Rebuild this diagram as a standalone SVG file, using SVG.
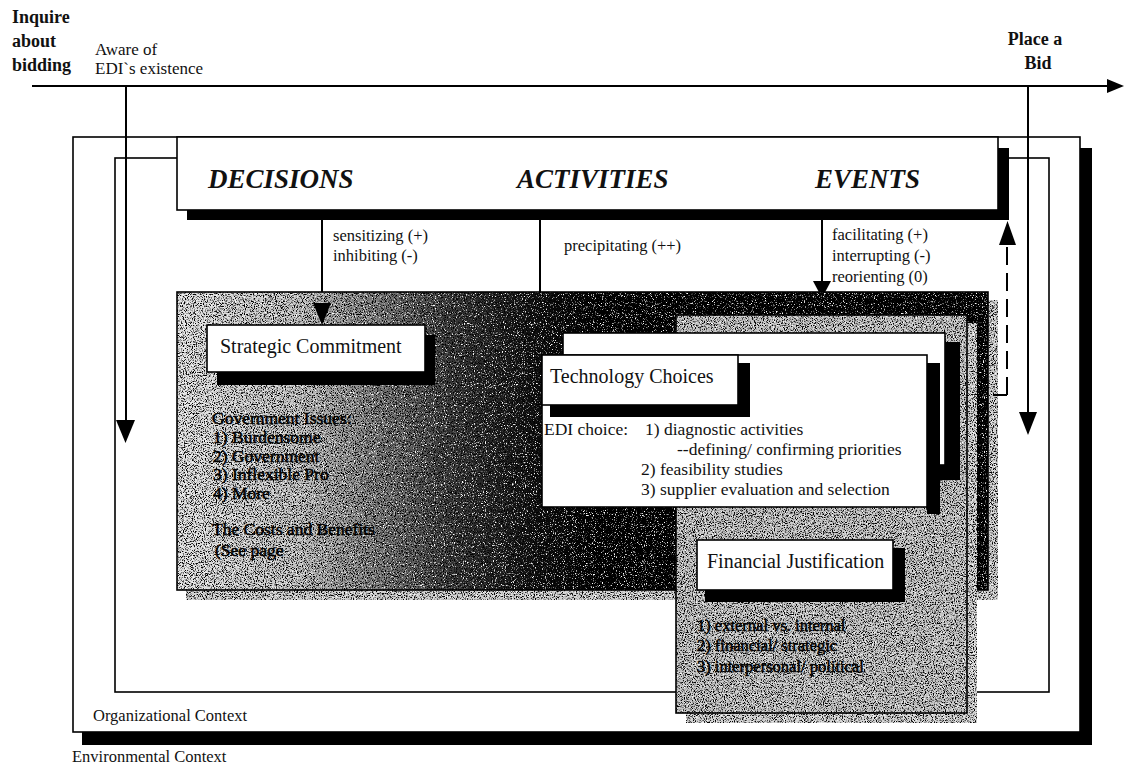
<svg xmlns="http://www.w3.org/2000/svg" width="1124" height="768" viewBox="0 0 1124 768">
  <defs>
    <style>
      .t { font-family: "Liberation Serif", "Times New Roman", serif; fill: #111; }
      .hdr { font-size: 27px; font-weight: bold; font-style: italic; }
      .top { font-size: 18px; font-weight: bold; }
      .lbl { font-size: 16.5px; }
      .title { font-size: 20px; }
      .body { font-size: 17.5px; }
      .dim { font-size: 17.5px; fill: #000; stroke: #000; stroke-width: 0.5px; }
      .box { fill: #fff; stroke: #000; stroke-width: 1.6; }
      .frame { fill: none; stroke: #000; stroke-width: 1.6; }
      .shadow { fill: #000; }
      .wire { fill: none; stroke: #000; stroke-width: 2; }
      .dash { fill: none; stroke: #000; stroke-width: 2; stroke-dasharray: 18 8; }
      .head { fill: #000; }
    </style>
    <!-- stippled halftone texture: dark and light specks over the fill -->
    <filter id="grain" x="0" y="0" width="1" height="1" color-interpolation-filters="sRGB">
      <feTurbulence type="fractalNoise" baseFrequency="0.9" numOctaves="2" seed="5" result="n"/>
      <feColorMatrix in="n" type="matrix" values="0 0 0 0 0  0 0 0 0 0  0 0 0 0 0  -5 0 0 0 2.6" result="dk"/>
      <feColorMatrix in="n" type="matrix" values="0 0 0 0 1  0 0 0 0 1  0 0 0 0 1  0 5 0 0 -2.9" result="lt"/>
      <feMerge result="m">
        <feMergeNode in="SourceGraphic"/>
        <feMergeNode in="dk"/>
        <feMergeNode in="lt"/>
      </feMerge>
      <feComposite in="m" in2="SourceGraphic" operator="in"/>
    </filter>
    <linearGradient id="fade" gradientUnits="userSpaceOnUse" x1="177" y1="0" x2="988" y2="0">
      <stop offset="0" stop-color="#e4e4e4"/>
      <stop offset="0.15" stop-color="#c4c4c4"/>
      <stop offset="0.25" stop-color="#7a7a7a"/>
      <stop offset="0.34" stop-color="#383838"/>
      <stop offset="0.44" stop-color="#101010"/>
      <stop offset="0.52" stop-color="#000"/>
      <stop offset="1" stop-color="#000"/>
    </linearGradient>
  </defs>

  <rect width="1124" height="768" fill="#fff"/>

  <!-- environmental context frame -->
  <g id="environmental-context">
    <rect class="shadow" x="82" y="148" width="1010" height="597"/>
    <rect class="box" x="73" y="137" width="1007" height="595"/>
    <text class="t lbl" x="72" y="762">Environmental Context</text>
  </g>

  <!-- organizational context frame -->
  <g id="organizational-context">
    <rect class="frame" x="115" y="158" width="934" height="534"/>
    <text class="t lbl" x="93" y="721">Organizational Context</text>
  </g>

  <!-- header bar -->
  <g id="header">
    <rect class="shadow" x="187" y="148" width="822" height="72"/>
    <rect class="box" x="177" y="137" width="821" height="73"/>
    <text class="t hdr" x="208" y="188">DECISIONS</text>
    <text class="t hdr" x="517" y="188">ACTIVITIES</text>
    <text class="t hdr" x="815" y="188">EVENTS</text>
  </g>

  <!-- timeline labels -->
  <g id="timeline-labels">
    <text class="t top" x="12" y="23">Inquire</text>
    <text class="t top" x="12" y="47">about</text>
    <text class="t top" x="12" y="71">bidding</text>
    <text class="t lbl" x="95" y="55" style="font-size:17px">Aware of</text>
    <text class="t lbl" x="95" y="74" style="font-size:17px">EDI`s existence</text>
    <text class="t top" x="1035" y="45" text-anchor="middle">Place a</text>
    <text class="t top" x="1038" y="69" text-anchor="middle">Bid</text>
  </g>

  <!-- connectors -->
  <g id="connectors">
    <line class="wire" x1="32" y1="86" x2="1110" y2="86"/>
    <polygon class="head" points="1107,79 1124,86 1107,93"/>
    <line class="wire" x1="126" y1="86" x2="126" y2="424"/>
    <polygon class="head" points="116,420 135,420 125.5,443"/>
    <line class="wire" x1="1028" y1="86" x2="1028" y2="416"/>
    <polygon class="head" points="1019,412 1037,412 1028,435"/>
    <line class="wire" x1="322" y1="220" x2="322" y2="305"/>
    <line class="wire" x1="540" y1="220" x2="540" y2="293"/>
    <line class="wire" x1="822" y1="220" x2="822" y2="284"/>
    <polygon class="head" points="813,281 831,281 822,298"/>
  </g>

  <!-- influence labels -->
  <g id="influence-labels">
    <text class="t lbl" x="333" y="241">sensitizing (+)</text>
    <text class="t lbl" x="333" y="261">inhibiting (-)</text>
    <text class="t lbl" x="564" y="251">precipitating (++)</text>
    <text class="t lbl" x="832" y="240">facilitating (+)</text>
    <text class="t lbl" x="832" y="261">interrupting (-)</text>
    <text class="t lbl" x="832" y="282">reorienting (0)</text>
  </g>

  <!-- strategic commitment panel -->
  <g id="strategic-commitment">
    <rect x="186" y="300" width="812" height="300" fill="#d0d0d0" filter="url(#grain)"/>
    <rect x="177" y="292" width="811" height="298" fill="url(#fade)" filter="url(#grain)"/>
    <rect class="frame" x="177" y="292" width="811" height="298"/>
    <polygon class="head" points="313,303 331,303 322,325"/>
    <rect class="shadow" x="217" y="335" width="218" height="50"/>
    <rect class="box" x="207" y="325" width="218" height="47"/>
    <text class="t title" x="220" y="353">Strategic Commitment</text>
    <text class="t dim" x="212" y="424">Government Issues:</text>
    <text class="t dim" x="213" y="443">1) Burdensome</text>
    <text class="t dim" x="213" y="462">2) Government</text>
    <text class="t dim" x="213" y="480">3) Inflexible Pro</text>
    <text class="t dim" x="213" y="499">4) More</text>
    <text class="t dim" x="212" y="535">The Costs and Benefits</text>
    <text class="t dim" x="215" y="556">(See page</text>
  </g>

  <!-- financial justification panel -->
  <g id="financial-justification">
    <rect x="686" y="323" width="291" height="400" fill="#d4d4d4" filter="url(#grain)"/>
    <rect x="676" y="315" width="291" height="398" fill="#c6c6c6" filter="url(#grain)"/>
    <rect class="frame" x="676" y="315" width="291" height="398"/>
    <rect class="shadow" x="705" y="548" width="200" height="54"/>
    <rect class="box" x="697" y="540" width="196" height="50"/>
    <text class="t title" x="707" y="568">Financial Justification</text>
    <text class="t dim" x="697" y="631" style="font-size:16.5px">1) external vs. internal</text>
    <text class="t dim" x="697" y="651" style="font-size:16.5px">2) financial/ strategic</text>
    <text class="t dim" x="697" y="672" style="font-size:16.5px">3) interpersonal/ political</text>
  </g>

  <!-- technology choices cards -->
  <g id="technology-choices">
    <rect class="shadow" x="572" y="342" width="388" height="138"/>
    <rect class="box" x="563" y="333" width="382" height="132"/>
    <rect class="shadow" x="927" y="363" width="13" height="151"/>
    <rect class="box" x="542" y="355" width="385" height="152"/>
    <rect class="shadow" x="550" y="363" width="200" height="54"/>
    <rect class="box" x="542" y="355" width="196" height="50"/>
    <text class="t title" x="550" y="383">Technology Choices</text>
    <text class="t body" x="544" y="435">EDI choice:</text>
    <text class="t body" x="645" y="435">1) diagnostic activities</text>
    <text class="t body" x="677" y="455">--defining/ confirming priorities</text>
    <text class="t body" x="641" y="475">2) feasibility studies</text>
    <text class="t body" x="641" y="495">3) supplier evaluation and selection</text>
  </g>

  <!-- feedback path back to the header -->
  <g id="feedback">
    <polyline class="wire" points="993,395 1007,395"/>
    <line class="dash" x1="1007" y1="395" x2="1007" y2="244"/>
    <polygon class="head" points="999,245 1016,245 1007.5,221"/>
  </g>
</svg>
